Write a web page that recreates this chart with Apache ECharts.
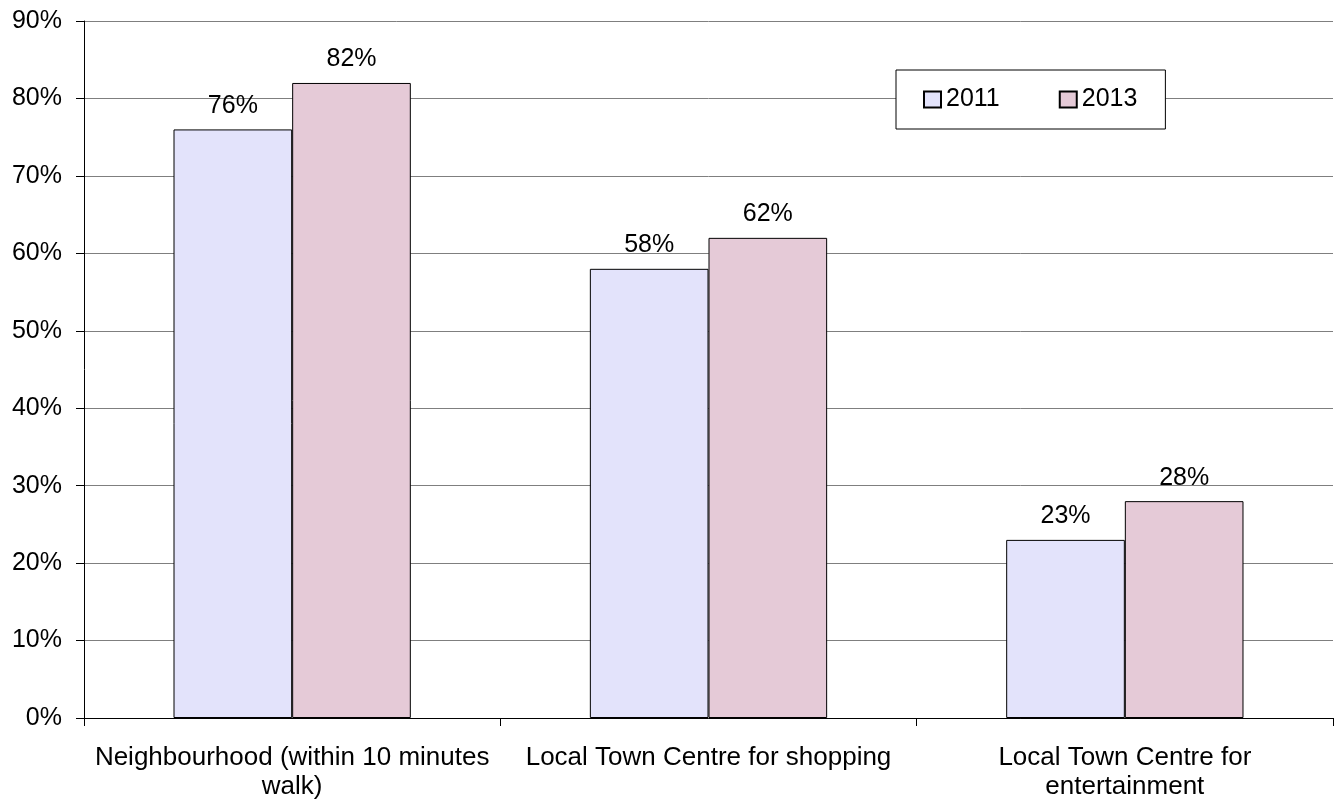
<!DOCTYPE html>
<html><head><meta charset="utf-8">
<script src="https://cdn.jsdelivr.net/npm/echarts@6/dist/echarts.min.js"></script>
<style>html,body{margin:0;padding:0;background:#fff}#c{width:1335px;height:803px}</style>
</head><body><div id="c"></div>
<script>
const categories = ["Neighbourhood (within 10 minutes\nwalk)", "Local Town Centre for shopping", "Local Town Centre for\nentertainment"];
const s2011 = [76, 58, 23];
const s2013 = [82, 62, 28];
const yTicks = [0, 10, 20, 30, 40, 50, 60, 70, 80, 90];

const font = "Liberation Sans, Arial, sans-serif";
const chart = echarts.init(document.getElementById('c'), null, {renderer: 'canvas'});
const lbl = {show: true, position: 'top', formatter: '{c}%', color: '#000', fontFamily: font, fontSize: 25, distance: 11};
chart.setOption({
  animation: false,
  textStyle: {fontFamily: font},
  grid: {left: 84, right: 2, top: 21, bottom: 85, containLabel: false},
  legend: {
    left: 896, top: 70,
    orient: 'horizontal', itemGap: 59, itemWidth: 17, itemHeight: 16,
    padding: [17, 28, 17, 27],
    borderColor: '#000', borderWidth: 1, backgroundColor: '#fff',
    textStyle: {fontFamily: font, fontSize: 25, color: '#000', padding: [2, 0, 0, 0]},
    data: [{name: '2011', icon: 'rect'}, {name: '2013', icon: 'rect'}]
  },
  xAxis: {
    type: 'category', data: categories,
    axisLine: {lineStyle: {color: '#000', width: 1}},
    axisTick: {show: true, alignWithLabel: false, length: 8, lineStyle: {color: '#000'}},
    axisLabel: {color: '#000', fontFamily: font, fontSize: 26, margin: 25, lineHeight: 29, interval: 0}
  },
  yAxis: {
    type: 'value', min: 0, max: 90, interval: 10,
    axisLine: {show: true, lineStyle: {color: '#000'}},
    axisTick: {show: true, length: 8, lineStyle: {color: '#000'}},
    axisLabel: {color: '#000', fontFamily: font, fontSize: 25, margin: 22, formatter: v => yTicks.includes(v) ? v + '%' : ''},
    splitLine: {show: true, lineStyle: {color: '#7f7f7f', width: 1}}
  },
  series: [
    {name: '2011', type: 'bar', data: s2011, barWidth: '28.5%', barGap: '0%',
     itemStyle: {color: '#E3E3FB', borderColor: '#000', borderWidth: 1}, label: lbl},
    {name: '2013', type: 'bar', data: s2013, barWidth: '28.5%', barGap: '0%',
     itemStyle: {color: '#E5CAD7', borderColor: '#000', borderWidth: 1}, label: lbl}
  ]
});
</script></body></html>
